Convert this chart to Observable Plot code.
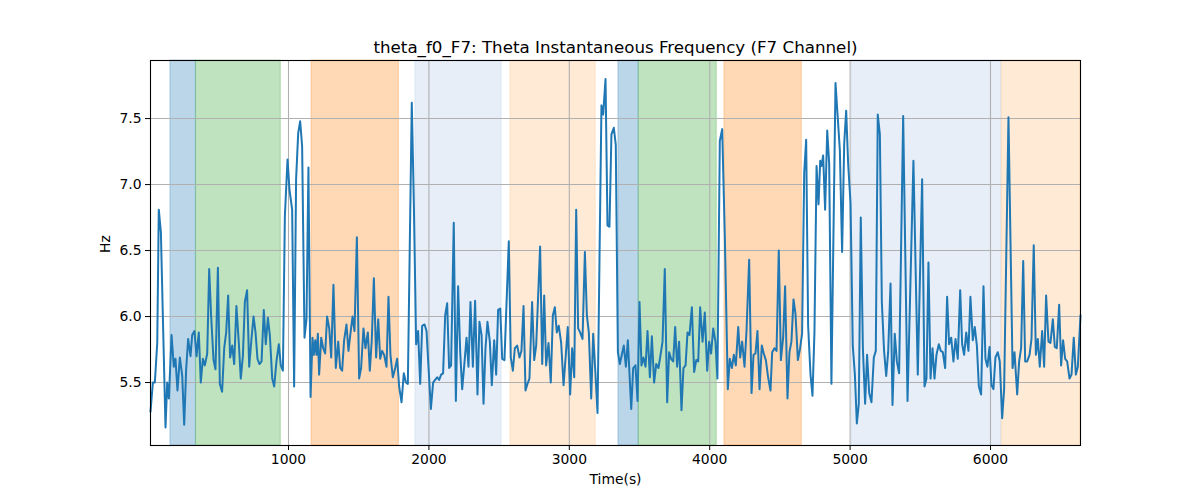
<!DOCTYPE html>
<html>
<head>
<meta charset="utf-8">
<script src="https://cdn.jsdelivr.net/npm/d3@7"></script>
<script src="https://cdn.jsdelivr.net/npm/@observablehq/plot@0.6"></script>
<style>
  html, body { margin: 0; padding: 0; background: #fff; }
  #chart svg { display: block; }
</style>
</head>
<body>
<div id="chart"></div>
<script>
const titleText = "theta_f0_F7: Theta Instantaneous Frequency (F7 Channel)";
const xLabel = "Time(s)";
const yLabel = "Hz";
const xTicks = [1000, 2000, 3000, 4000, 5000, 6000];
const yTicks = [5.5, 6.0, 6.5, 7.0, 7.5];

const times = [
  17,34,48,65,76,91,105,124,136,148,167,183,195,209,226,243,257,271,285,302,314,330,345,361,375,390,404,421,435,449,466,480,497,511,527,542,556,570,584,599,613,629,646,660,675,689,705,720,736,751,765,779,793,808,824,838,853,867,884,898,914,931,945,960,974,993,1007,1026,1040,1054,1069,1083,1097,
  1114,1128,1142,1157,1171,1180,1190,1199,1209,1218,1233,1247,1261,1275,1290,1304,1320,1337,1354,1368,1382,1396,1413,1427,1442,1456,1470,1487,1503,1517,1534,1548,1565,1579,1593,1608,1624,1639,1653,1667,1681,1698,1712,1726,1743,1760,1774,1788,1805,1821,1836,1850,1878,1893,1909,1923,1938,1952,1969,1983,1997,2014,2030,2044,2059,2073,2087,2101,2116,2130,2144,2158,2177,2192,2208,
  2223,2237,2254,2268,2282,2296,2313,2329,2346,2360,2375,2389,2403,2417,2434,2448,2465,2479,2493,2508,2522,2538,2569,2583,2598,2612,2629,2645,2659,2674,2688,2702,2716,2735,2750,2764,2792,2807,2821,2835,2852,2868,2883,2897,2911,2925,2942,2959,2973,2989,3006,3020,3035,3049,3063,3077,3094,3111,3125,3139,3156,3170,3184,3201,3229,3241,3258,3272,3286,3300,3317,
  3331,3346,3360,3374,3388,3403,3417,3441,3455,3471,3486,3500,3514,3528,3543,3557,3574,3588,3604,3619,3635,3650,3664,3680,3697,3711,3725,3740,3754,3768,3782,3799,3813,3828,3842,3856,3873,3889,3904,3918,3932,3949,3965,3982,3996,4010,4025,4041,4055,4072,4089,4108,4129,4143,4158,4172,4186,4203,4217,4231,4248,4262,4281,4298,4312,4326,4340,4355,4371,4385,4400,
  4416,4433,4445,4461,4476,4492,4507,4523,4537,4554,4568,4582,4597,4611,4628,4644,4658,4673,4687,4701,4718,4732,4746,4761,4775,4787,4796,4808,4822,4837,4851,4867,4896,4910,4927,4943,4958,4972,4986,5003,5019,5034,5048,5062,5076,5091,5107,5121,5136,5152,5169,5183,5197,5212,5226,5242,5257,5271,5288,5302,5318,5333,5349,5378,5409,5451,5482,5513,
  5530,5544,5558,5573,5587,5601,5615,5632,5646,5660,5677,5691,5705,5720,5736,5751,5767,5784,5798,5812,5827,5843,5857,5874,5888,5903,5917,5933,5950,5964,5978,5993,6007,6021,6035,6052,6066,6083,6097,6128,6157,6171,6190,6204,6218,6233,6247,6261,6278,6292,6308,6323,6337,6351,6368,6382,6396,6413,6427,6444,6458,6472,6489,6503,6517,6532,6546,6563,6577,6593,6608,6622,6641
];

const hz = [
  5.28,5.50,5.50,5.80,6.81,6.64,6.00,5.16,5.50,5.38,5.86,5.62,5.68,5.44,5.69,5.55,5.18,5.60,5.83,5.70,5.86,5.89,5.70,5.88,5.50,5.68,5.63,5.72,6.36,6.00,5.67,5.60,6.37,5.49,5.43,5.76,5.88,6.16,5.69,5.78,5.64,6.08,5.80,5.53,5.70,6.11,6.20,5.62,5.83,6.00,5.88,5.68,5.64,5.66,6.05,5.79,5.99,5.86,5.53,5.47,5.66,5.79,5.63,5.59,6.76,7.19,6.96,6.81,5.47,7.04,7.39,7.48,7.29,
  5.84,5.98,7.13,5.39,5.84,5.71,5.82,5.71,5.87,5.56,5.84,5.76,5.72,6.00,5.91,5.69,6.24,5.61,5.81,5.61,5.59,5.82,5.94,5.74,5.88,6.00,5.89,6.60,5.53,5.61,5.91,5.76,5.88,5.59,5.82,6.29,5.69,5.98,5.68,5.74,5.71,5.62,6.15,5.71,5.54,5.61,5.68,5.47,5.35,5.57,5.50,5.49,7.62,6.84,5.79,5.89,5.49,5.93,5.94,5.89,5.62,5.30,5.50,5.52,5.54,5.52,5.56,5.57,6.01,6.10,5.61,5.63,6.71,5.36,6.23,
  5.73,5.45,5.66,5.84,5.62,6.11,5.62,6.12,5.41,5.96,5.86,5.34,5.76,5.96,5.81,5.48,5.82,5.56,6.05,6.06,5.68,5.67,6.57,5.69,5.59,5.76,5.78,5.69,5.74,6.08,5.44,5.49,5.53,6.11,5.67,5.78,6.53,5.64,6.16,5.63,5.80,5.50,6.01,6.07,5.88,5.93,5.80,5.48,5.68,5.92,5.41,5.76,5.54,6.81,5.91,5.88,5.83,6.49,6.01,5.88,5.38,5.87,5.61,5.27,7.60,7.53,7.80,6.69,6.68,7.38,7.43,
  7.30,5.73,5.64,5.71,5.78,5.62,5.82,5.30,5.61,5.63,5.36,6.11,5.63,5.69,5.62,5.89,5.54,5.85,5.50,5.64,5.61,5.71,5.81,6.36,5.35,5.73,5.68,5.66,5.92,5.62,5.81,5.29,5.61,5.63,5.88,5.86,6.07,5.58,5.67,5.66,6.07,5.81,6.03,5.59,5.81,5.72,5.91,5.81,5.53,7.33,7.42,6.59,5.45,5.68,5.61,5.71,5.63,5.92,5.69,5.81,5.62,5.89,6.43,5.42,5.71,5.72,5.89,5.45,5.78,5.72,5.67,
  5.54,5.44,5.73,5.76,5.74,6.50,5.67,5.84,6.23,5.38,5.73,5.81,6.13,6.02,5.67,5.76,5.87,7.09,7.34,5.93,5.56,5.40,5.88,7.14,6.85,7.18,7.14,7.22,6.81,7.41,7.16,5.49,7.77,7.54,7.26,6.49,7.31,7.56,7.16,6.86,5.78,5.56,5.19,5.34,6.75,5.76,5.34,5.71,5.42,5.35,5.69,5.74,7.53,7.38,6.11,5.74,5.55,5.73,6.25,5.33,5.87,5.66,5.57,7.52,5.36,7.18,5.56,7.04,
  5.47,5.53,6.41,5.53,5.76,5.53,5.71,5.79,5.74,5.73,5.61,6.15,5.79,5.84,5.66,5.83,5.68,6.20,5.79,5.71,5.88,5.74,6.15,5.82,5.92,5.78,5.47,5.41,6.23,5.68,5.62,5.77,5.48,5.45,5.69,5.73,5.66,5.23,5.45,7.51,5.61,5.73,5.41,5.66,5.76,6.42,5.66,5.66,5.71,5.83,6.54,5.71,5.83,5.62,5.89,5.62,6.16,5.81,5.80,5.98,5.77,5.76,6.09,5.63,5.82,5.68,5.66,5.53,5.56,5.84,5.56,5.62,6.01
];

const spanStart = [159, 342, 1164, 1904, 2581, 3350, 3495, 4105, 5013, 6080];
const spanEnd   = [340, 945, 1786, 2518, 3188, 3494, 4050, 4656, 6078, 6641];
const spanColor = ["#1f77b4", "#2ca02c", "#ff7f0e", "#aec7e8", "#ffbb78",
                   "#1f77b4", "#2ca02c", "#ff7f0e", "#aec7e8", "#ffbb78"];

const series = times.map((t, i) => ({t, v: hz[i]}));
const spans = spanStart.map((s, i) => ({s, e: spanEnd[i], c: spanColor[i]}));

const font = "DejaVu Sans, Liberation Sans, sans-serif";

const chart = Plot.plot({
  width: 1200,
  height: 500,
  marginLeft: 150,
  marginRight: 120,
  marginTop: 60,
  marginBottom: 55,
  style: {fontFamily: font, fontSize: "13.9px", color: "#000", background: "#fff"},
  x: {domain: [17, 6641], ticks: xTicks, label: null},
  y: {domain: [5.023, 7.94], ticks: yTicks, label: null},
  marks: [
    Plot.rect(spans, {x1: "s", x2: "e", fill: "c", fillOpacity: 0.3, stroke: "c", strokeOpacity: 0.3, strokeWidth: 1}),
    Plot.gridX(xTicks, {stroke: "#b0b0b0", strokeOpacity: 1, strokeWidth: 1.1}),
    Plot.gridY(yTicks, {stroke: "#b0b0b0", strokeOpacity: 1, strokeWidth: 1.1}),
    Plot.line(series, {x: "t", y: "v", stroke: "#1f77b4", strokeWidth: 2, strokeLinejoin: "round"}),
    Plot.axisX(xTicks, {tickSize: 5, tickPadding: 4, label: null, fontSize: 13.9, tickFormat: d3.format("d"), stroke: "#000", fill: "#000"}),
    Plot.axisY(yTicks, {tickSize: 5, tickPadding: 4, label: null, fontSize: 13.9, tickFormat: d3.format(".1f"), stroke: "#000", fill: "#000"}),
    Plot.frame({stroke: "#000", strokeWidth: 1.1}),
    Plot.text([titleText], {frameAnchor: "top", lineAnchor: "bottom", dy: -8, fontSize: 16.7, fill: "#000"}),
    Plot.text([xLabel], {frameAnchor: "bottom", lineAnchor: "top", dy: 29, fontSize: 13.9, fill: "#000"}),
    Plot.text([yLabel], {frameAnchor: "left", rotate: -90, dx: -45, fontSize: 13.9, fill: "#000"})
  ]
});
document.getElementById("chart").appendChild(chart);
</script>
</body>
</html>
